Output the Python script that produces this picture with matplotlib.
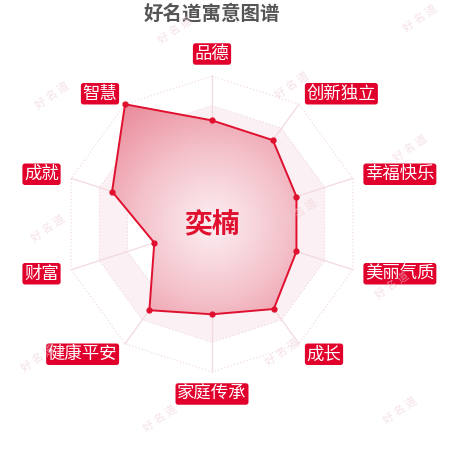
import numpy as np
import matplotlib
matplotlib.use('Agg')
import matplotlib.pyplot as plt
from matplotlib.colors import LinearSegmentedColormap
from matplotlib.patches import Polygon

plt.rcParams['font.family'] = ['Noto Sans CJK SC', 'DejaVu Sans']

# chart data
title = '好名道寓意图谱'
name = '奕楠'
indicators = ['品德', '创新独立', '幸福快乐', '美丽气质', '成长',
              '家庭传承', '健康平安', '财富', '成就', '智慧']
values = [70, 70, 60, 60, 71, 61, 72, 41, 71, 100]
max_value = 100
levels = [20, 40, 60, 80, 100]

# watermark spots (pixel coords, y from top)
wm_x = [175, 420, 52, 292, 410, 48, 300, 392, 38, 282, 160, 400]
wm_y = [30, 18, 95, 85, 148, 228, 212, 285, 358, 352, 418, 410]

red = '#e0102f'
box_red = '#e1002b'

fig = plt.figure(figsize=(4.5, 4.5), dpi=100)
ax = fig.add_axes([0, 0, 1, 1])
# centre at pixel (212, 224), radius 148 px == max_value
scale = 1.48
ax.set_xlim(-212 / scale, (450 - 212) / scale)
ax.set_ylim(-(450 - 224) / scale, 224 / scale)
ax.axis('off')

n = len(indicators)
angles = np.pi / 2 - np.arange(n) * 2 * np.pi / n


def ring(r):
    return np.column_stack([r * np.cos(angles), r * np.sin(angles)])


# split areas (alternating bands)
for i, lv in enumerate(levels):
    inner = levels[i - 1] if i > 0 else 0
    if i % 2 == 1:
        outer_pts = ring(lv)
        inner_pts = ring(inner)[::-1]
        band = np.vstack([outer_pts, outer_pts[:1], inner_pts[-1:], inner_pts])
        ax.fill(band[:, 0], band[:, 1], color='#fbf0f3', lw=0, zorder=1)

# split lines
for lv in levels:
    pts = ring(lv)
    pts = np.vstack([pts, pts[:1]])
    ax.plot(pts[:, 0], pts[:, 1], color='#f0d6dc', lw=0.8, ls=(0, (1, 2)), zorder=2)

# spokes
for a in angles:
    ax.plot([0, max_value * np.cos(a)], [0, max_value * np.sin(a)],
            color='#f2dae0', lw=0.9, zorder=2)

# value polygon with radial gradient
vals = np.array(values, dtype=float)
px = vals * np.cos(angles)
py = vals * np.sin(angles)
poly = Polygon(np.column_stack([px, py]), closed=True, facecolor='none',
               edgecolor=red, lw=1.4, zorder=5)
ax.add_patch(poly)

cmap = LinearSegmentedColormap.from_list('pinkgrad', ['#fcf0f3', '#f4c2cb', '#ea8a99'])
g = np.linspace(-max_value, max_value, 400)
gx, gy = np.meshgrid(g, g)
rad = np.sqrt(gx ** 2 + gy ** 2) / max_value
img = ax.imshow(rad, extent=[-max_value, max_value, -max_value, max_value],
                origin='lower', cmap=cmap, vmin=0, vmax=1, zorder=4,
                interpolation='bilinear')
img.set_clip_path(poly)
ax.plot(px, py, 'o', color=red, ms=3.5, zorder=6)

# indicator labels
label_r = max_value + 13 / scale
for lab, a in zip(indicators, angles):
    c, s = np.cos(a), np.sin(a)
    if abs(c) < 0.01:
        ha = 'center'
        va = 'bottom' if s > 0 else 'top'
    else:
        ha = 'left' if c > 0 else 'right'
        va = 'center'
    ax.text(label_r * c, label_r * s, lab, ha=ha, va=va, fontsize=12.5,
            color='white', zorder=8,
            bbox=dict(boxstyle='round,pad=0.1,rounding_size=0.15',
                      fc=box_red, ec='none'))

# centre name
ax.text(0, 0, name, ha='center', va='center', fontsize=20, fontweight='bold',
        color=red, zorder=9)

# title
fig.text(0.5 - 13 / 450, 1 - 14 / 450, title, ha='center', va='center',
         fontsize=14, fontweight='bold', color='#555555')

# watermarks
for wx, wy in zip(wm_x, wm_y):
    fig.text(wx / 450, 1 - wy / 450, '好 名 道', ha='center', va='center',
             fontsize=8, rotation=35, color='#efcdd5', alpha=0.6, zorder=20)

fig.savefig('out.png', dpi=100)
